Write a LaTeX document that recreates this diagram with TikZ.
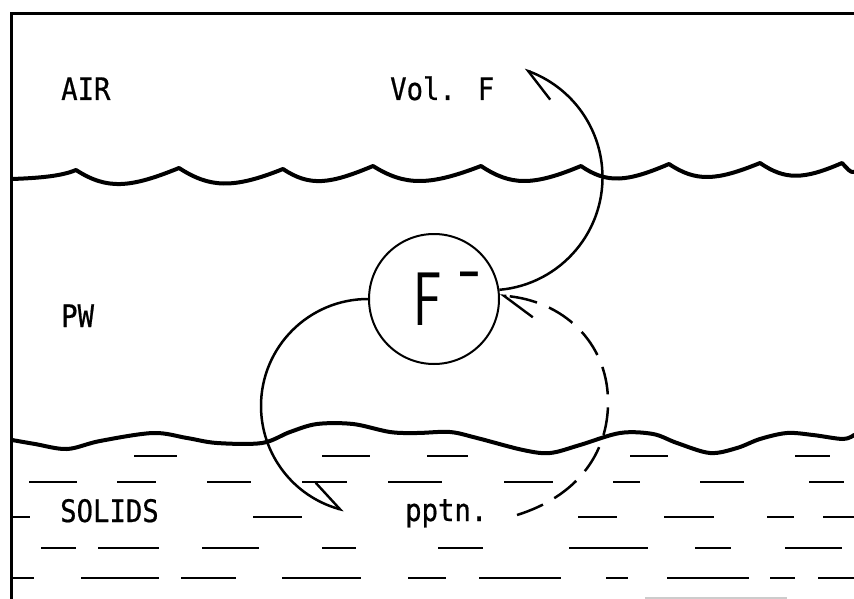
\documentclass[tikz,border=0pt]{standalone}
\usepackage{fontspec}
\newfontfamily\labfont{DejaVu Sans Mono}[FakeStretch=0.88,FakeBold=0.6]
\usetikzlibrary{arrows.meta,bending}
\begin{document}
\begin{tikzpicture}[x=1pt,y=-1pt,
  lab/.style={font=\labfont\fontsize{31pt}{31pt}\selectfont, inner sep=0pt, anchor=base west},
  bigf/.style={font=\sffamily\fontsize{76pt}{76pt}\selectfont, inner sep=0pt, anchor=base west},
  frameline/.style={line width=3pt},
  wave/.style={line width=4pt, line join=round, line cap=round},
  hatch/.style={line width=2.2pt},
  flow/.style={line width=2.5pt},
  harp/.style={-{Straight Barb[harpoon,length=30pt,width=40pt,line width=2.4pt]}},
  dashflow/.style={dash pattern=on 28pt off 13pt}]
\useasboundingbox (0,0) rectangle (854,599);
\fill[white] (0,0) rectangle (854,599);

% frame
\draw[frameline] (11,599) -- (11,14) -- (854,14);

% air / pore-water interface
\draw[wave] (12,179) .. controls (40,178) and (62,176) .. (76,170)
  .. controls +(31,20) and +(-49,20) .. (179,168)
  .. controls +(31,20) and +(-50,20) .. (283,169)
  .. controls +(27,18) and +(-43,18) .. (373,166)
  .. controls +(32,20) and +(-52,20) .. (481,166)
  .. controls +(30,20) and +(-48,20) .. (581,166)
  .. controls +(26,18) and +(-42,18) .. (669,164)
  .. controls +(27,18) and +(-44,18) .. (760,163)
  .. controls +(25,17) and +(-39,17) .. (842,163)
  .. controls +(5,5) and +(-4,1) .. (854,172);

% pore-water / solids interface
\draw[wave] plot[smooth, tension=0.55] coordinates {
  (12,440) (35,444) (67,449) (100,441) (153,433) (187,438) (217,443)
  (262,443) (290,432) (317,424) (353,424) (390,432) (417,433) (450,432)
  (477,438) (523,450) (550,453) (580,445) (620,433) (653,434) (677,443)
  (710,453) (737,448) (760,439) (787,433) (813,435) (843,439) (854,435)};

% solids hatching
\foreach \a/\b in {134/177, 322/370, 427/468, 630/668, 795/830}
  \draw[hatch] (\a,456) -- (\b,456);
\foreach \a/\b in {29/77, 117/156, 207/251, 302/347, 388/442, 504/553, 613/640, 700/744, 809/844}
  \draw[hatch] (\a,482) -- (\b,482);
\foreach \a/\b in {12/30, 253/302, 578/617, 664/714, 767/794, 823/854}
  \draw[hatch] (\a,517) -- (\b,517);
\foreach \a/\b in {41/76, 98/159, 202/259, 322/356, 438/483, 569/648, 695/731, 785/842}
  \draw[hatch] (\a,548) -- (\b,548);
\foreach \a/\b in {13/34, 81/159, 181/236, 282/361, 408/446, 479/561, 606/628, 667/749, 770/795, 818/854}
  \draw[hatch] (\a,578) -- (\b,578);
\draw[gray!40, line width=1.5pt] (645,598) -- (787,598);

% labels
\node[lab] (air) at (61,100) {AIR};
\node[lab] (vol) at (390,100) {Vol. F};
\node[lab] (pw) at (61,327) {PW};
\node[lab] (solids) at (60,522) {SOLIDS};
\node[lab] (pptn) at (405,521) {pptn.};

% fluoride ion
\node[circle, draw, line width=2pt, minimum size=130pt, inner sep=0pt] (F) at (434,299) {};
\node[bigf] (Ftext) at (413,325) {\scalebox{0.7}[1]{F}\kern19pt\raisebox{31pt}{\scalebox{0.5}[1]{–}}};

% flows
\coordinate (dstart) at (517,515);
\draw[flow, harp] (F.8) arc[start angle=-85, end angle=72, radius=113pt];
\draw[flow, harp] (F.180) arc[start angle=90, end angle=257, radius=107pt];
\draw[flow, dashflow, harp] (dstart) .. controls (575,497) and (609,455) .. (608,400)
  .. controls (607,340) and (560,298) .. (F.3);
\end{tikzpicture}
\end{document}
